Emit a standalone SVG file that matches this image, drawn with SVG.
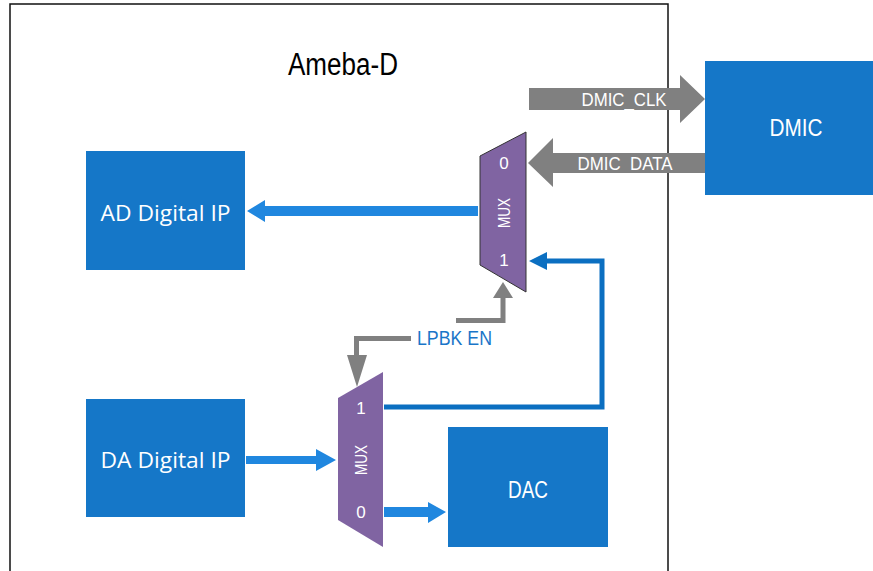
<svg xmlns="http://www.w3.org/2000/svg" width="873" height="571" viewBox="0 0 873 571">
<style>
.box{fill:#1577C8}
.boxt{font-family:"Open Sans","Liberation Sans",sans-serif;font-size:21px;fill:#fff;text-anchor:middle}
.cond{font-family:"Liberation Sans",sans-serif}
.mux{fill:#8064A2}
.muxt{font-family:"Liberation Sans",sans-serif;font-size:17px;fill:#fff;text-anchor:middle}
.gray{fill:#808080}
.arrowb{fill:#2087DF}
</style>
<rect width="873" height="571" fill="#fff"/>
<g id="frame">
<rect x="10" y="4" width="658" height="580" fill="none" stroke="#111" stroke-width="1.5"/>
<text class="cond" x="343" y="75" font-size="31" text-anchor="middle" textLength="110" lengthAdjust="spacingAndGlyphs" fill="#000">Ameba-D</text>
</g>
<g id="ad">
<rect class="box" x="86" y="151" width="159" height="119"/>
<text class="boxt" x="165.5" y="221" textLength="130" lengthAdjust="spacingAndGlyphs">AD Digital IP</text>
</g>
<g id="da">
<rect class="box" x="86" y="399" width="159" height="118"/>
<text class="boxt" x="165.5" y="468" textLength="130" lengthAdjust="spacingAndGlyphs">DA Digital IP</text>
</g>
<g id="dac">
<rect class="box" x="448" y="427" width="160" height="120"/>
<text class="cond" x="528" y="498" font-size="24" fill="#fff" text-anchor="middle" textLength="40" lengthAdjust="spacingAndGlyphs">DAC</text>
</g>
<g id="dmic">
<rect class="box" x="705" y="61" width="170" height="134"/>
<text class="cond" x="796" y="136" font-size="24" fill="#fff" text-anchor="middle" textLength="53" lengthAdjust="spacingAndGlyphs">DMIC</text>
</g>
<g id="mux-top">
<polygon class="mux" points="480,156 526,132 526,292 480,265" stroke="#333" stroke-width="1"/>
<text class="muxt" x="504" y="169">0</text>
<text class="muxt" transform="translate(510,213) rotate(-90)" font-size="16" textLength="30" lengthAdjust="spacingAndGlyphs">MUX</text>
<text class="muxt" x="504" y="266">1</text>
</g>
<g id="mux-bottom">
<polygon class="mux" points="338,398 383,372 383,547 338,520"/>
<text class="muxt" x="361" y="414">1</text>
<text class="muxt" transform="translate(367,460) rotate(-90)" font-size="16" textLength="30" lengthAdjust="spacingAndGlyphs">MUX</text>
<text class="muxt" x="361" y="518">0</text>
</g>
<g id="connectors">
<!-- DMIC_CLK -->
<polygon class="gray" points="529,88 680,88 680,75 705,99 680,123 680,110 529,110"/>
<text class="cond" x="624" y="106" font-size="18" fill="#fff" text-anchor="middle" textLength="85" lengthAdjust="spacingAndGlyphs">DMIC_CLK</text>
<!-- DMIC_DATA -->
<polygon class="gray" points="705,153 553,153 553,138 528,163 553,187 553,173 705,173"/>
<text class="cond" x="625" y="170" font-size="18" fill="#fff" text-anchor="middle" textLength="95" lengthAdjust="spacingAndGlyphs">DMIC_DATA</text>
<!-- MUX -> AD -->
<polygon class="arrowb" points="478,206 265,206 265,200 247,211 265,222 265,216 478,216"/>
<!-- DA -> MUX -->
<polygon class="arrowb" points="246,456 316,456 316,449 336,460 316,471 316,464 246,464"/>
<!-- MUX -> DAC -->
<polygon class="arrowb" points="384,507 428,507 428,502 446,512 428,523 428,517 384,517"/>
<!-- loopback -->
<polyline points="384,407 602,407 602,261 545,261" fill="none" stroke="#0B6FC1" stroke-width="5"/>
<polygon points="547,252 529,261 547,270" fill="#0B6FC1"/>
<!-- LPBK EN -->
<polyline points="456,320.5 503,320.5 503,298" fill="none" stroke="#808080" stroke-width="5"/>
<polygon class="gray" points="493,298 513,298 503,282"/>
<polyline points="411,338.5 356.5,338.5 356.5,356" fill="none" stroke="#808080" stroke-width="5"/>
<polygon class="gray" points="347,355 367,355 357,387"/>
<text class="cond" x="454.5" y="345" font-size="20" fill="#1A75C8" text-anchor="middle" textLength="75" lengthAdjust="spacingAndGlyphs">LPBK EN</text>
</g>
</svg>
